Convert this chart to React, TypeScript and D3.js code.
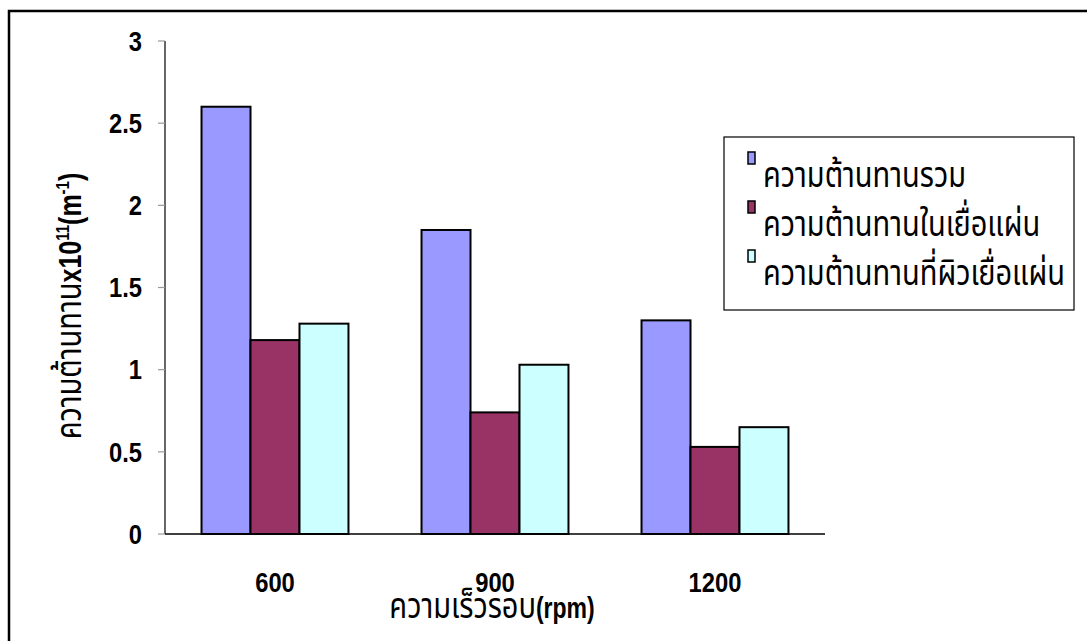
import React from "react";
import * as d3 from "d3";

// Rotation speed groups (rpm)
const categories = ["600", "900", "1200"];
// Resistance series (x10^11 m^-1)
const seriesNames = [
  "ความต้านทานรวม",
  "ความต้านทานในเยื่อแผ่น",
  "ความต้านทานที่ผิวเยื่อแผ่น",
];
const totalResistance = [2.6, 1.85, 1.3];
const membraneResistance = [1.18, 0.74, 0.53];
const surfaceResistance = [1.28, 1.03, 0.65];
const yTicks = [0, 0.5, 1, 1.5, 2, 2.5, 3];
const yTickLabels = ["0", "0.5", "1", "1.5", "2", "2.5", "3"];

const seriesValues = [totalResistance, membraneResistance, surfaceResistance];
const seriesColors = ["#9999FF", "#993366", "#CCFFFF"];

const W = 1087;
const H = 641;
const FONT = "'Liberation Sans', Arial, 'Noto Sans Thai', 'Noto Sans', sans-serif";
// Thai glyphs are drawn a little taller than the fallback font's natural shape
const THAI_STRETCH = 1.25;

export default function App() {
  const plotLeft = 165;
  const plotRight = 825;
  const plotTop = 41;
  const plotBottom = 534;

  const x = d3
    .scaleBand<string>()
    .domain(categories)
    .range([plotLeft, plotRight])
    .paddingInner(0.332)
    .paddingOuter(0.166);
  const xInner = d3
    .scaleBand<number>()
    .domain(d3.range(seriesNames.length))
    .range([0, x.bandwidth()]);
  const y = d3.scaleLinear().domain([0, 3]).range([plotBottom, plotTop]);

  const legendX = 724;
  const legendY = 137;
  const legendW = 350;
  const legendH = 173;
  const rowY = [177, 226, 275];

  return (
    <svg
      width={W}
      height={H}
      style={{ position: "absolute", left: 0, top: 0, background: "#fff" }}
      fontFamily={FONT}
    >
      <rect x={0} y={0} width={W} height={H} fill="#fff" />
      {/* chart frame */}
      <rect
        x={9}
        y={11}
        width={W + 20}
        height={H + 20}
        fill="none"
        stroke="#000"
        strokeWidth={2.5}
      />

      {/* bars */}
      {categories.map((c, ci) =>
        seriesValues.map((vals, si) => (
          <rect
            key={`${c}-${si}`}
            x={(x(c) as number) + (xInner(si) as number)}
            y={y(vals[ci])}
            width={xInner.bandwidth()}
            height={y(0) - y(vals[ci])}
            fill={seriesColors[si]}
            stroke="#000"
            strokeWidth={2}
          />
        ))
      )}

      {/* y axis */}
      <line x1={plotLeft} x2={plotLeft} y1={plotTop} y2={plotBottom} stroke="#000" strokeWidth={1.2} />
      {yTicks.map((t, i) => (
        <g key={t}>
          <line x1={plotLeft - 7} x2={plotLeft} y1={y(t)} y2={y(t)} stroke="#999" strokeWidth={1.2} />
          <text
            x={0}
            y={0}
            dy="0.36em"
            textAnchor="end"
            fontSize={27}
            fontWeight="bold"
            transform={`translate(142 ${y(t)}) scale(0.88 1)`}
          >
            {yTickLabels[i]}
          </text>
        </g>
      ))}

      {/* x axis */}
      <line x1={plotLeft} x2={plotRight} y1={plotBottom} y2={plotBottom} stroke="#000" strokeWidth={1.5} />
      {categories.map((c) => {
        const cx = (x(c) as number) + x.bandwidth() / 2;
        return (
          <text
            key={c}
            x={0}
            y={0}
            textAnchor="middle"
            fontSize={27}
            fontWeight="bold"
            transform={`translate(${cx} 592) scale(0.88 1)`}
          >
            {c}
          </text>
        );
      })}

      {/* x axis title */}
      <text
        x={0}
        y={0}
        textAnchor="middle"
        fontSize={29}
        transform={`translate(492 618) scale(1 ${THAI_STRETCH})`}
      >
        <tspan>ความเร็วรอบ</tspan>
        <tspan fontWeight="bold" fontSize={23}>(rpm)</tspan>
      </text>

      {/* y axis title */}
      <text
        x={0}
        y={0}
        transform={`translate(81, 306) rotate(-90) scale(1 ${THAI_STRETCH})`}
        textAnchor="middle"
        fontSize={29}
      >
        <tspan>ความต้านทาน</tspan>
        <tspan fontWeight="bold" fontSize={25}>x10</tspan>
        <tspan fontWeight="bold" fontSize={15} dy={-10}>11</tspan>
        <tspan fontWeight="bold" fontSize={25} dy={10}>(m</tspan>
        <tspan fontWeight="bold" fontSize={15} dy={-10}>-1</tspan>
        <tspan fontWeight="bold" fontSize={25} dy={10}>)</tspan>
      </text>

      {/* legend */}
      <rect
        x={legendX}
        y={legendY}
        width={legendW}
        height={legendH}
        fill="#fff"
        stroke="#000"
        strokeWidth={1.2}
      />
      {seriesNames.map((name, i) => (
        <g key={name}>
          <rect
            x={748}
            y={rowY[i] - 25}
            width={7}
            height={12}
            fill={seriesColors[i]}
            stroke="#000"
            strokeWidth={1.5}
          />
          <text
            x={0}
            y={0}
            fontSize={29}
            transform={`translate(763 ${rowY[i] + 10}) scale(1 ${THAI_STRETCH})`}
          >
            {name}
          </text>
        </g>
      ))}
    </svg>
  );
}
